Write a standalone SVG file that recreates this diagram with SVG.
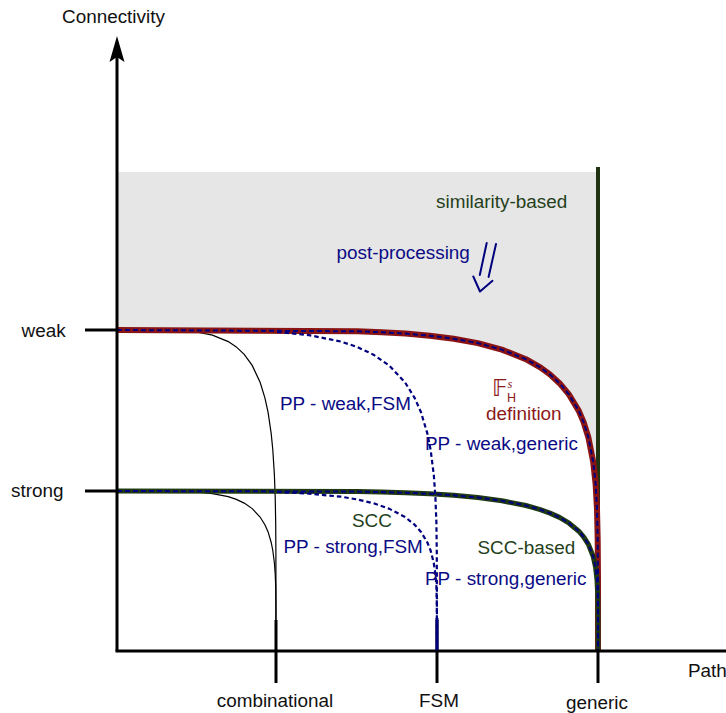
<svg xmlns="http://www.w3.org/2000/svg" xmlns:xlink="http://www.w3.org/1999/xlink" width="726" height="713" viewBox="0 0 726 713">
  <style>
    text { font-family: "Liberation Sans", Arial, sans-serif; font-size: 18.9px; }
    .blk { fill: #111111; }
    .blue { fill: #0b0b85; }
    .grn { fill: #24401a; }
    .red { fill: #8b1a1a; }
    .axis { stroke: #000; stroke-width: 3; fill: none; }
    .thin { stroke: #000; stroke-width: 1.2; fill: none; }
    .bandR { stroke: #8a1414; stroke-width: 6; fill: none; stroke-linejoin: round; }
    .bandG { stroke: #1f3a13; stroke-width: 5; fill: none; stroke-linejoin: round; }
    .dash { stroke: #00007f; stroke-width: 2; fill: none; stroke-dasharray: 5 3; stroke-linejoin: round; }
    .dashPP { stroke: #00007f; stroke-width: 2.2; fill: none; stroke-dasharray: 4.5 3; stroke-linejoin: round; }
  </style>
  <defs>
    <!-- boundary curves: weak / strong connectivity limits -->
    <path id="weakCurve" d="M117,330 L357.5,331.3 L381.6,332.2 L405.6,333.6 L429.7,335.7 L453.7,338.7 L477.8,343.1 L501.8,349.6 L525.9,359.2 L540.3,367.4 L549.9,374.4 L559.5,383.2 L569.1,394.7 L578.8,410.9 L583.6,422.2 L588.4,437.5 L593.2,461.9 L595.6,483.9 L597,509.2 L597.7,540 L598,580 L598,650"/>
    <path id="strongCurve" d="M117,491 L357.5,491.6 L381.6,492.1 L405.6,492.8 L429.7,493.8 L453.7,495.3 L477.8,497.5 L501.8,500.7 L525.9,505.5 L540.3,509.6 L549.9,513.1 L559.5,517.4 L569.1,523.2 L578.8,531.2 L583.6,536.8 L588.4,544.4 L593.2,556.5 L595.6,567.4 L597,580 L597.7,595 L598,615 L598,650"/>
  </defs>

  <!-- shaded similarity-based area above the weak limit -->
  <g id="region">
    <path fill="#e6e6e6" d="M117,172 H598 V650 L598,580 L597.7,540 L597,509.2 L595.6,483.9 L593.2,461.9 L588.4,437.5 L583.6,422.2 L578.8,410.9 L569.1,394.7 L559.5,383.2 L549.9,374.4 L540.3,367.4 L525.9,359.2 L501.8,349.6 L477.8,343.1 L453.7,338.7 L429.7,335.7 L405.6,333.6 L381.6,332.2 L357.5,331.3 L117,330 Z"/>
  </g>

  <!-- combinational limits (thin) -->
  <g id="combinational-curves">
    <path class="thin" d="M117,330 L196.5,332 L212.4,335.1 L228.3,341.6 L236.3,346.9 L244.2,354.4 L252.2,365.4 L260.1,382.3 L264.9,397.8 L268.1,412.3 L271.2,433.6 L272.8,449.7 L274.4,474.9 L275.2,497.3 L275.7,522.7 L275.9,553.4 L276,650"/>
    <path class="thin" d="M117,491 L196.5,492 L212.4,493.6 L228.3,496.7 L236.3,499.4 L244.2,503.1 L252.2,508.6 L260.1,517 L264.9,524.7 L268.1,531.9 L271.2,542.5 L272.8,550.5 L274.4,563 L275.2,574.1 L275.7,586.7 L275.9,602 L276,650"/>
  </g>

  <!-- generic limit (vertical) and main boundaries -->
  <g id="connectors">
    <line x1="598" y1="167" x2="598" y2="651" stroke="#1f3313" stroke-width="4"/>
    <use xlink:href="#weakCurve" class="bandR"/>
    <use xlink:href="#strongCurve" class="bandG"/>
    <use xlink:href="#weakCurve" class="dash"/>
    <use xlink:href="#strongCurve" class="dash"/>
    <!-- post-processing FSM limits -->
    <path class="dashPP" d="M277,332 L309,335.1 L341,341.6 L357,346.9 L373,354.4 L389,365.4 L405,382.3 L414.6,397.8 L421,412.3 L427.4,433.6 L430.6,449.7 L433.8,474.9 L435.4,497.3 L436.4,522.7 L436.8,553.4 L437,650"/>
    <path class="dashPP" d="M277,492 L309,493.6 L341,496.7 L357,499.4 L373,503.1 L389,508.6 L405,517 L414.6,524.7 L421,531.9 L427.4,542.5 L430.6,550.5 L433.8,563 L435.4,574.1 L436.4,586.7 L436.8,602 L437,650"/>
    <!-- post-processing double arrow -->
    <g stroke="#00007f" stroke-width="2" fill="none" stroke-linecap="round" stroke-linejoin="round">
      <line x1="486.7" y1="243" x2="479.8" y2="275"/>
      <line x1="496" y1="244" x2="488.6" y2="277"/>
      <polyline points="473.3,276.5 480,291.5 492.5,280.8"/>
    </g>
  </g>

  <!-- axes and ticks -->
  <g id="axes">
    <line class="axis" x1="117" y1="651" x2="117" y2="57"/>
    <path d="M117,36 L124.5,62 L117,57 L109.5,62 Z" fill="#000"/>
    <line class="axis" x1="115.5" y1="651" x2="726" y2="651"/>
    <line class="axis" x1="85" y1="330" x2="117" y2="330"/>
    <line class="axis" x1="85" y1="491" x2="117" y2="491"/>
    <line class="axis" x1="276" y1="620" x2="276" y2="683"/>
    <line class="axis" x1="437" y1="620" x2="437" y2="683"/>
    <line x1="437" y1="618" x2="437" y2="650" stroke="#00007f" stroke-width="3"/>
    <line class="axis" x1="598" y1="651" x2="598" y2="683"/>
  </g>

  <!-- labels -->
  <g id="labels">
    <text class="blk" x="62" y="23">Connectivity</text>
    <text class="blk" x="688" y="677">Path</text>
    <text class="blk" x="21.5" y="336.5">weak</text>
    <text class="blk" x="11" y="497">strong</text>
    <text class="blk" x="275" y="707" text-anchor="middle">combinational</text>
    <text class="blk" x="439" y="707" text-anchor="middle">FSM</text>
    <text class="blk" x="597" y="709" text-anchor="middle">generic</text>

    <text class="grn" x="436" y="208">similarity-based</text>
    <text class="blue" x="336.5" y="259">post-processing</text>

    <text class="red" x="492" y="395.5" style="font-family: 'DejaVu Sans', 'Liberation Serif', serif; font-size: 23px;">𝔽</text>
    <text class="red" x="507.5" y="388" style="font-family: 'Liberation Serif', serif; font-style: italic; font-size: 12.5px;">s</text>
    <text class="red" x="507" y="401.5" style="font-size: 12.5px;">H</text>
    <text class="red" x="486" y="420">definition</text>

    <text class="blue" x="280" y="410">PP - weak,FSM</text>
    <text class="blue" x="425" y="449.5">PP - weak,generic</text>
    <text class="grn" x="352" y="527">SCC</text>
    <text class="blue" x="283.5" y="553">PP - strong,FSM</text>
    <text class="grn" x="477.5" y="553.5">SCC-based</text>
    <text class="blue" x="425" y="585">PP - strong,generic</text>
  </g>
</svg>
